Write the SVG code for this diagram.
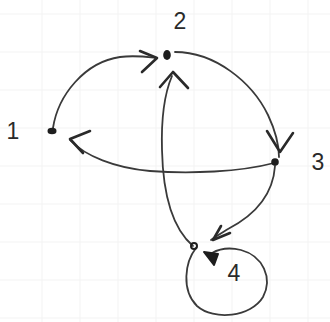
<svg xmlns="http://www.w3.org/2000/svg" width="330" height="322" viewBox="0 0 330 322">
<style>
.grid{stroke:#f3f3f3;stroke-width:1}
.edge{fill:none;stroke:#3a3a3a;stroke-width:1.8;stroke-linecap:round;stroke-linejoin:round}
.head{fill:none;stroke:#2a2a2a;stroke-width:2.6;stroke-linecap:round;stroke-linejoin:round}
.dot{fill:#1e1e1e}
.lbl{font-family:"Liberation Sans",Arial,sans-serif;font-size:23px;fill:#2a2a2a;text-anchor:middle}
</style>
<rect width="330" height="322" fill="#ffffff"/>
<g id="grid">
<path class="grid" d="M42 0V322M80 0V322M118 0V322M156 0V322M194 0V322M232 0V322M270 0V322M308 0V322M0 14H330M0 52H330M0 90H330M0 128H330M0 166H330M0 204H330M0 242H330M0 280H330M0 318H330"/>
</g>
<g id="connectors">
<path id="e1-2" class="edge" d="M53 128 C58 95 85 62 120 57 C135 55 148 57 157 58"/>
<path class="head" d="M140 51 L157 58 L142 72"/>
<path id="e2-3" class="edge" d="M175 52 C215 52 252 82 268 115 C276 132 279 145 279 157"/>
<path class="head" d="M267 131 L280 152 L293 133"/>
<path id="e3-1" class="edge" d="M274 163 C240 172 190 174 150 171 C115 168 85 156 70 140"/>
<path class="head" d="M90 131 L70 139 L83 153"/>
<path id="e3-4" class="edge" d="M275 166 C273 195 255 215 228 229 C220 234 215 237 211 240"/>
<path class="head" d="M221 226 L213 240 L230 233"/>
<path id="e4-2" class="edge" d="M193 246 C172 228 163 195 162 150 C161 115 166 90 172 76"/>
<path class="head" d="M160 87 L173 72 L188 88"/>
<path id="e4-4" class="edge" d="M196 248 C185 262 181 290 197 306 C214 321 251 317 263 297 C273 278 263 256 241 250 C229 247 219 249 212 253"/>
<path d="M204 252 L218 254 L214 265 Z" fill="#1e1e1e" stroke="#1e1e1e" stroke-width="2" stroke-linejoin="round"/>
</g>
<g id="node1"><ellipse class="dot" cx="52" cy="131" rx="4.5" ry="3.2"/><text class="lbl" x="13" y="139">1</text></g>
<g id="node2"><ellipse class="dot" cx="167" cy="55" rx="3.8" ry="5"/><text class="lbl" x="180" y="29">2</text></g>
<g id="node3"><circle class="dot" cx="275" cy="162" r="3.8"/><text class="lbl" x="318" y="170">3</text></g>
<g id="node4"><circle cx="194" cy="246" r="3" fill="none" stroke="#1e1e1e" stroke-width="2"/><text class="lbl" x="234" y="281">4</text></g>
</svg>
